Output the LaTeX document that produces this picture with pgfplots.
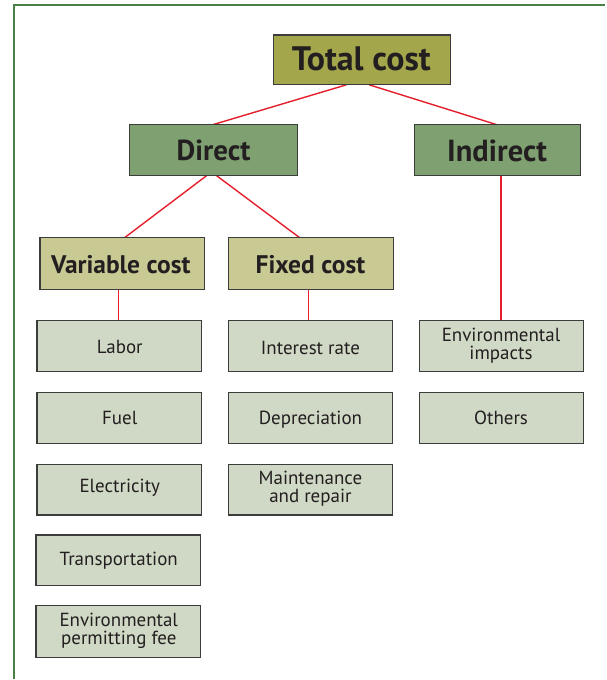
\documentclass[border=0pt]{standalone}
\usepackage{pgfplots}
\pgfplotsset{compat=1.18}
\usepackage{fontspec}
\setmainfont{PT Sans}
\definecolor{frame}{HTML}{4A7F45}
\definecolor{topfill}{HTML}{A3A64A}
\definecolor{midfill}{HTML}{7FA070}
\definecolor{subfill}{HTML}{C9C993}
\definecolor{leaffill}{HTML}{D0D9C5}
\definecolor{edge}{HTML}{3C3C3C}
\definecolor{link}{HTML}{E41E2B}
\definecolor{txt}{HTML}{231F20}
\newcommand{\bx}[5]{\addplot[fill=#5, draw=edge, line width=1.2pt] coordinates {(#1,#2) (#3,#2) (#3,#4) (#1,#4)} -- cycle;}
\newcommand{\lnk}[4]{\addplot[draw=link, line width=1.4pt] coordinates {(#1,#2) (#3,#4)};}
\begin{document}
\begin{tikzpicture}
\begin{axis}[scale only axis, width=606pt, height=680pt,
  xmin=0, xmax=606, ymin=0, ymax=680, y dir=reverse,
  axis lines=none, ticks=none, clip=false]
\addplot[draw=none] coordinates {(0,0) (606,680)};
% frame
\addplot[draw=frame, line width=2.6pt] coordinates {(14,680) (14,5) (606,5)};
% links
\lnk{347}{85}{213}{125}
\lnk{370}{85}{498}{125}
\lnk{207}{176}{125}{238}
\lnk{217}{176}{300}{238}
\lnk{502}{176}{502}{321}
\lnk{119}{290}{119}{321}
\lnk{309}{290}{309}{321}
% boxes
\bx{274}{35}{451}{85}{topfill}
\bx{130}{125}{298}{176}{midfill}
\bx{415}{125}{582}{176}{midfill}
\bx{40}{238}{205}{290}{subfill}
\bx{229}{238}{394}{290}{subfill}
\bx{37}{321}{202}{372}{leaffill}
\bx{37}{393}{202}{444}{leaffill}
\bx{37}{465}{202}{516}{leaffill}
\bx{36}{536}{201}{587}{leaffill}
\bx{36}{607}{201}{659}{leaffill}
\bx{229}{321}{393}{372}{leaffill}
\bx{229}{393}{393}{444}{leaffill}
\bx{229}{465}{393}{516}{leaffill}
\bx{420}{321}{585}{372}{leaffill}
\bx{420}{393}{585}{444}{leaffill}
% texts
\node[text=txt, font=\fontsize{34}{36}\selectfont\bfseries] at (axis cs:362,59) {Total cost};
\node[text=txt, font=\fontsize{29}{31}\selectfont\bfseries] at (axis cs:214,151) {Direct};
\node[text=txt, font=\fontsize{30.5}{32}\selectfont\bfseries] at (axis cs:498,151) {Indirect};
\node[text=txt, font=\fontsize{25.5}{27}\selectfont\bfseries] at (axis cs:121,265) {Variable cost};
\node[text=txt, font=\fontsize{25.5}{27}\selectfont\bfseries] at (axis cs:311,265) {Fixed cost};
\tikzset{leaf/.style={text=txt, align=center, font=\fontsize{19}{18}\selectfont}}
\node[leaf] at (axis cs:120,348) {Labor};
\node[leaf] at (axis cs:120,419) {Fuel};
\node[leaf] at (axis cs:120,489) {Electricity};
\node[leaf] at (axis cs:119,562) {Transportation};
\node[leaf] at (axis cs:119,632) {Environmental\\permitting fee};
\node[leaf] at (axis cs:311,349) {Interest rate};
\node[leaf] at (axis cs:311,420) {Depreciation};
\node[leaf] at (axis cs:311,490) {Maintenance\\and repair};
\node[leaf] at (axis cs:502,346) {Environmental\\impacts};
\node[leaf] at (axis cs:502,419) {Others};
\end{axis}
\end{tikzpicture}
\end{document}
